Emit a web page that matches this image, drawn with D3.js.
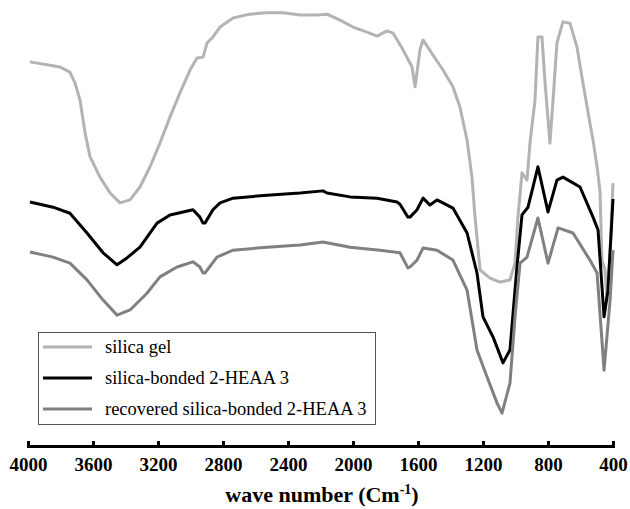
<!DOCTYPE html>
<html>
<head>
<meta charset="utf-8">
<script src="https://cdn.jsdelivr.net/npm/d3@7"></script>
<style>
  body { margin: 0; background: #fff; }
  text { font-family: "Liberation Serif", "Times New Roman", serif; }
</style>
</head>
<body>
<script>
// wave numbers (cm-1) and transmittance (%)
const gelWave = [3988, 3803, 3742, 3711, 3680, 3649, 3618, 3557, 3495, 3434, 3372, 3311, 3249, 3188, 3126, 3065, 3003, 2960, 2923, 2898, 2862, 2818, 2738, 2634, 2529, 2431, 2326, 2222, 2160, 2080, 2000, 1914, 1852, 1791, 1754, 1692, 1637, 1618, 1588, 1569, 1508, 1446, 1385, 1342, 1298, 1268, 1249, 1218, 1157, 1095, 1034, 1003, 985, 960, 929, 911, 880, 862, 837, 818, 788, 769, 745, 708, 665, 622, 585, 542, 523, 498, 480, 468, 449, 437, 418, 400];
const gelT = [89.1, 87.9, 86.7, 84.2, 80.2, 72.6, 67.0, 62.3, 58.6, 56.3, 57.0, 60.0, 64.7, 70.2, 76.3, 81.9, 87.2, 90.0, 90.2, 93.5, 94.9, 97.2, 99.3, 100.2, 100.5, 100.5, 100, 100, 100.2, 98.8, 97.2, 96.0, 95.1, 96.3, 95.8, 91.9, 87.9, 83.3, 91.9, 94.2, 90.7, 87.2, 83.3, 78.6, 70.9, 62.3, 53.0, 40.7, 38.8, 37.9, 38.4, 42.3, 53.0, 63.3, 61.6, 70.2, 80.2, 94.9, 94.9, 84.2, 70.2, 80.2, 93.5, 98.4, 98.1, 92.6, 84.2, 74.9, 70.9, 64.7, 59.0, 43.0, 40.7, 33.7, 45.0, 60.9];

const bondedWave = [3988, 3846, 3742, 3637, 3538, 3452, 3391, 3311, 3206, 3126, 2985, 2942, 2923, 2911, 2862, 2818, 2738, 2529, 2326, 2185, 2160, 2018, 1852, 1729, 1711, 1662, 1649, 1606, 1569, 1526, 1483, 1385, 1298, 1237, 1200, 1138, 1077, 1034, 991, 960, 923, 862, 800, 745, 708, 603, 523, 492, 455, 431, 400];
const bondedT = [56.5, 55.3, 53.9, 49.3, 44.7, 41.9, 43.5, 46.0, 51.6, 53.5, 54.7, 53.0, 51.6, 51.6, 54.7, 56.3, 57.4, 58.1, 58.6, 59.1, 58.6, 57.7, 57.4, 56.5, 56.0, 53.0, 53.0, 54.7, 57.4, 55.8, 57.0, 55.1, 49.3, 40.0, 29.8, 25.1, 19.1, 22.1, 41.4, 53.5, 55.3, 64.7, 54.2, 61.6, 62.3, 60.0, 53.0, 50.0, 29.8, 36.0, 57.2];

const recoveredWave = [3988, 3846, 3742, 3637, 3538, 3452, 3372, 3268, 3188, 3083, 2985, 2942, 2923, 2911, 2837, 2738, 2529, 2326, 2185, 2018, 1834, 1711, 1662, 1649, 1606, 1569, 1483, 1385, 1298, 1237, 1175, 1114, 1083, 1034, 1003, 972, 929, 862, 800, 738, 646, 542, 498, 455, 418, 400];
const recoveredT = [44.9, 43.7, 42.3, 38.4, 33.7, 30.2, 31.4, 35.3, 39.1, 41.4, 42.6, 41.4, 40.0, 40.0, 43.7, 45.3, 46.0, 46.5, 47.2, 46.0, 45.3, 44.7, 41.2, 41.4, 43.0, 45.8, 45.3, 43.0, 36.0, 22.1, 15.8, 9.8, 7.4, 14.4, 29.8, 42.3, 43.7, 52.8, 42.3, 50.5, 49.3, 43.0, 40.0, 17.4, 33.7, 45.3];

const seriesNames = ["silica gel", "silica-bonded 2-HEAA 3", "recovered silica-bonded 2-HEAA 3"];
const seriesColors = ["#b3b3b3", "#000000", "#808080"];
const tickValues = [4000, 3600, 3200, 2800, 2400, 2000, 1600, 1200, 800, 400];

const series = [
  gelWave.map((w, i) => ({w: w, t: gelT[i]})),
  bondedWave.map((w, i) => ({w: w, t: bondedT[i]})),
  recoveredWave.map((w, i) => ({w: w, t: recoveredT[i]}))
];

const width = 630, height = 509;
const svg = d3.select("body").append("svg")
  .attr("width", width)
  .attr("height", height);

const x = d3.scaleLinear().domain([4000, 400]).range([28, 613]);
const y = d3.scaleLinear().domain([0, 100]).range([445, 15]);

const line = d3.line()
  .x(d => x(d.w))
  .y(d => y(d.t));

// spectra, drawn light first so the black one sits on top
svg.selectAll(".spectrum")
  .data(series)
  .enter().append("path")
  .attr("class", "spectrum")
  .attr("fill", "none")
  .attr("stroke", (d, i) => seriesColors[i])
  .attr("stroke-width", 3)
  .attr("stroke-linejoin", "round")
  .attr("d", line);

// x axis, ticks pointing up
const axis = svg.append("g")
  .attr("transform", "translate(0,446)")
  .call(d3.axisBottom(x)
    .tickValues(tickValues)
    .tickSizeInner(-5)
    .tickSizeOuter(-5)
    .tickPadding(12)
    .tickFormat(d3.format("d")));

axis.select(".domain").attr("stroke", "#000").attr("stroke-width", 3);
axis.selectAll(".tick line").attr("stroke", "#000").attr("stroke-width", 3);
axis.selectAll(".tick text")
  .attr("fill", "#000")
  .style("font-family", "'Liberation Serif', serif")
  .style("font-size", "19px")
  .style("font-weight", "bold");

// axis title
const title = svg.append("text")
  .attr("x", 322)
  .attr("y", 502)
  .attr("text-anchor", "middle")
  .style("font-size", "22px")
  .style("font-weight", "bold");
title.append("tspan").text("wave number (Cm");
title.append("tspan").attr("dy", -8).style("font-size", "14px").text("-1");
title.append("tspan").attr("dy", 8).text(")");

// legend
const legend = svg.append("g");
legend.append("rect")
  .attr("x", 38.5)
  .attr("y", 332.5)
  .attr("width", 337)
  .attr("height", 92)
  .attr("fill", "#fff")
  .attr("stroke", "#555")
  .attr("stroke-width", 1);

const rows = legend.selectAll(".row")
  .data(seriesNames)
  .enter().append("g")
  .attr("class", "row")
  .attr("transform", (d, i) => "translate(0," + (347 + i * 31) + ")");

rows.append("line")
  .attr("x1", 43).attr("x2", 92)
  .attr("stroke", (d, i) => seriesColors[i])
  .attr("stroke-width", 3);

rows.append("text")
  .attr("x", 105)
  .attr("dy", "0.32em")
  .style("font-size", "18.5px")
  .text(d => d);
</script>
</body>
</html>
